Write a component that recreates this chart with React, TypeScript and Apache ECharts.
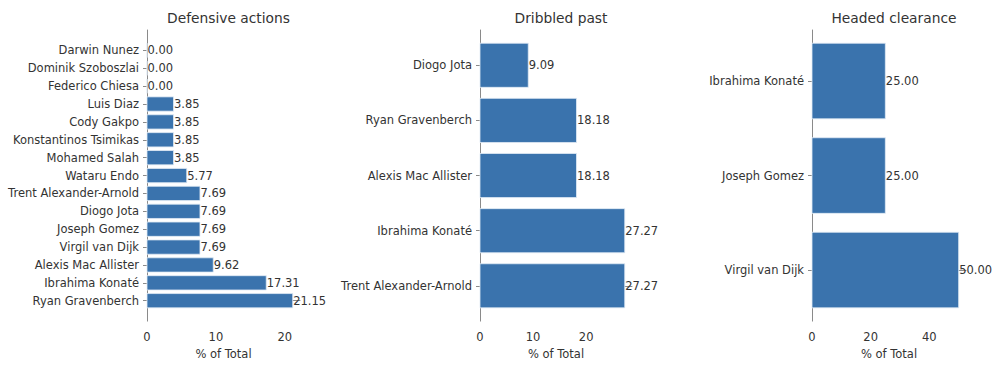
import React, { useEffect, useRef } from "react";
import * as echarts from "echarts";

// Defensive actions (bottom to top, as drawn by the horizontal bar chart)
const defNames = [
  "Ryan Gravenberch",
  "Ibrahima Konaté",
  "Alexis Mac Allister",
  "Virgil van Dijk",
  "Joseph Gomez",
  "Diogo Jota",
  "Trent Alexander-Arnold",
  "Wataru Endo",
  "Mohamed Salah",
  "Konstantinos Tsimikas",
  "Cody Gakpo",
  "Luis Diaz",
  "Federico Chiesa",
  "Dominik Szoboszlai",
  "Darwin Nunez",
];
const defValues = [21.15, 17.31, 9.62, 7.69, 7.69, 7.69, 7.69, 5.77, 3.85, 3.85, 3.85, 3.85, 0, 0, 0];

const dribNames = [
  "Trent Alexander-Arnold",
  "Ibrahima Konaté",
  "Alexis Mac Allister",
  "Ryan Gravenberch",
  "Diogo Jota",
];
const dribValues = [27.27, 27.27, 18.18, 18.18, 9.09];

const headNames = ["Virgil van Dijk", "Joseph Gomez", "Ibrahima Konaté"];
const headValues = [50.0, 25.0, 25.0];

const titles = ["Defensive actions", "Dribbled past", "Headed clearance"];
const xTicks = [
  [0, 10, 20],
  [0, 10, 20],
  [0, 20, 40],
];
const xAxisName = "% of Total";

const FONT = "DejaVu Sans";
const TEXT = "#333333";
const AXIS = "#8a8a8a";
const BAR = "#3a73ad";
const FS = 11.5;

export default function App() {
  const ref = useRef<HTMLDivElement>(null);

  useEffect(() => {
    if (!ref.current) return;
    const chart = echarts.init(ref.current, undefined, { renderer: "svg" });

    const panels = [
      { names: defNames, values: defValues, left: 147, width: 153 },
      { names: dribNames, values: dribValues, left: 480, width: 152 },
      { names: headNames, values: headValues, left: 812, width: 154 },
    ];

    const grid: any[] = [];
    const xAxis: any[] = [];
    const yAxis: any[] = [];
    const series: any[] = [];
    const title: any[] = [];

    panels.forEach((p, i) => {
      const n = p.names.length;
      const span = n - 0.2;
      const yMin = -0.4 - 0.05 * span;
      const yMax = n - 0.6 + 0.05 * span;
      const xMax = Math.max(...p.values) * 1.05;
      const idx = p.names.map((_, k) => k);

      grid.push({ left: p.left, top: 30, width: p.width, height: 298 });
      title.push({
        text: titles[i],
        left: p.left + p.width / 2,
        top: 6,
        textAlign: "center",
        textStyle: { fontFamily: FONT, fontSize: 13.8, fontWeight: "normal", color: TEXT },
      });
      xAxis.push({
        type: "value",
        gridIndex: i,
        min: 0,
        max: xMax,
        splitLine: { show: false },
        axisLine: { show: true, lineStyle: { color: AXIS, width: 1 } },
        axisTick: { show: true, length: 4, lineStyle: { color: AXIS }, customValues: xTicks[i] },
        axisLabel: {
          customValues: xTicks[i],
          margin: 10,
          fontFamily: FONT,
          fontSize: FS,
          color: TEXT,
        },
        name: xAxisName,
        nameLocation: "middle",
        nameGap: 24,
        nameTextStyle: { fontFamily: FONT, fontSize: FS, color: TEXT },
      });
      yAxis.push({
        type: "value",
        gridIndex: i,
        min: yMin,
        max: yMax,
        splitLine: { show: false },
        axisLine: { show: true, onZero: false, lineStyle: { color: AXIS, width: 1 } },
        axisTick: { show: true, length: 4, lineStyle: { color: AXIS }, customValues: idx },
        axisLabel: {
          customValues: idx,
          margin: 8,
          fontFamily: FONT,
          fontSize: FS,
          color: TEXT,
          formatter: (v: number) => p.names[Math.round(v)] ?? "",
        },
      });
      series.push({
        type: "custom",
        xAxisIndex: i,
        yAxisIndex: i,
        encode: { x: 0, y: 1 },
        data: p.values.map((v, k) => [v, k]),
        renderItem: (params: any, api: any) => {
          const val = api.value(0);
          const k = api.value(1);
          const s = api.coord([0, k]);
          const e = api.coord([val, k]);
          const h = api.size([0, 0.8])[1];
          return {
            type: "group",
            children: [
              {
                type: "rect",
                shape: { x: s[0], y: s[1] - h / 2, width: e[0] - s[0], height: h },
                style: { fill: BAR, stroke: "rgba(225,235,245,0.8)", lineWidth: 1 },
              },
              {
                type: "text",
                style: {
                  text: val.toFixed(2),
                  x: e[0] + 0.5,
                  y: e[1],
                  align: "left",
                  verticalAlign: "middle",
                  fill: TEXT,
                  fontFamily: FONT,
                  fontSize: FS,
                },
              },
            ],
          };
        },
      });
    });

    chart.setOption({
      animation: false,
      backgroundColor: "#ffffff",
      title,
      grid,
      xAxis,
      yAxis,
      series,
    });

    return () => chart.dispose();
  }, []);

  return (
    <div
      ref={ref}
      style={{ position: "fixed", left: 0, top: 0, width: 1000, height: 365 }}
    />
  );
}
